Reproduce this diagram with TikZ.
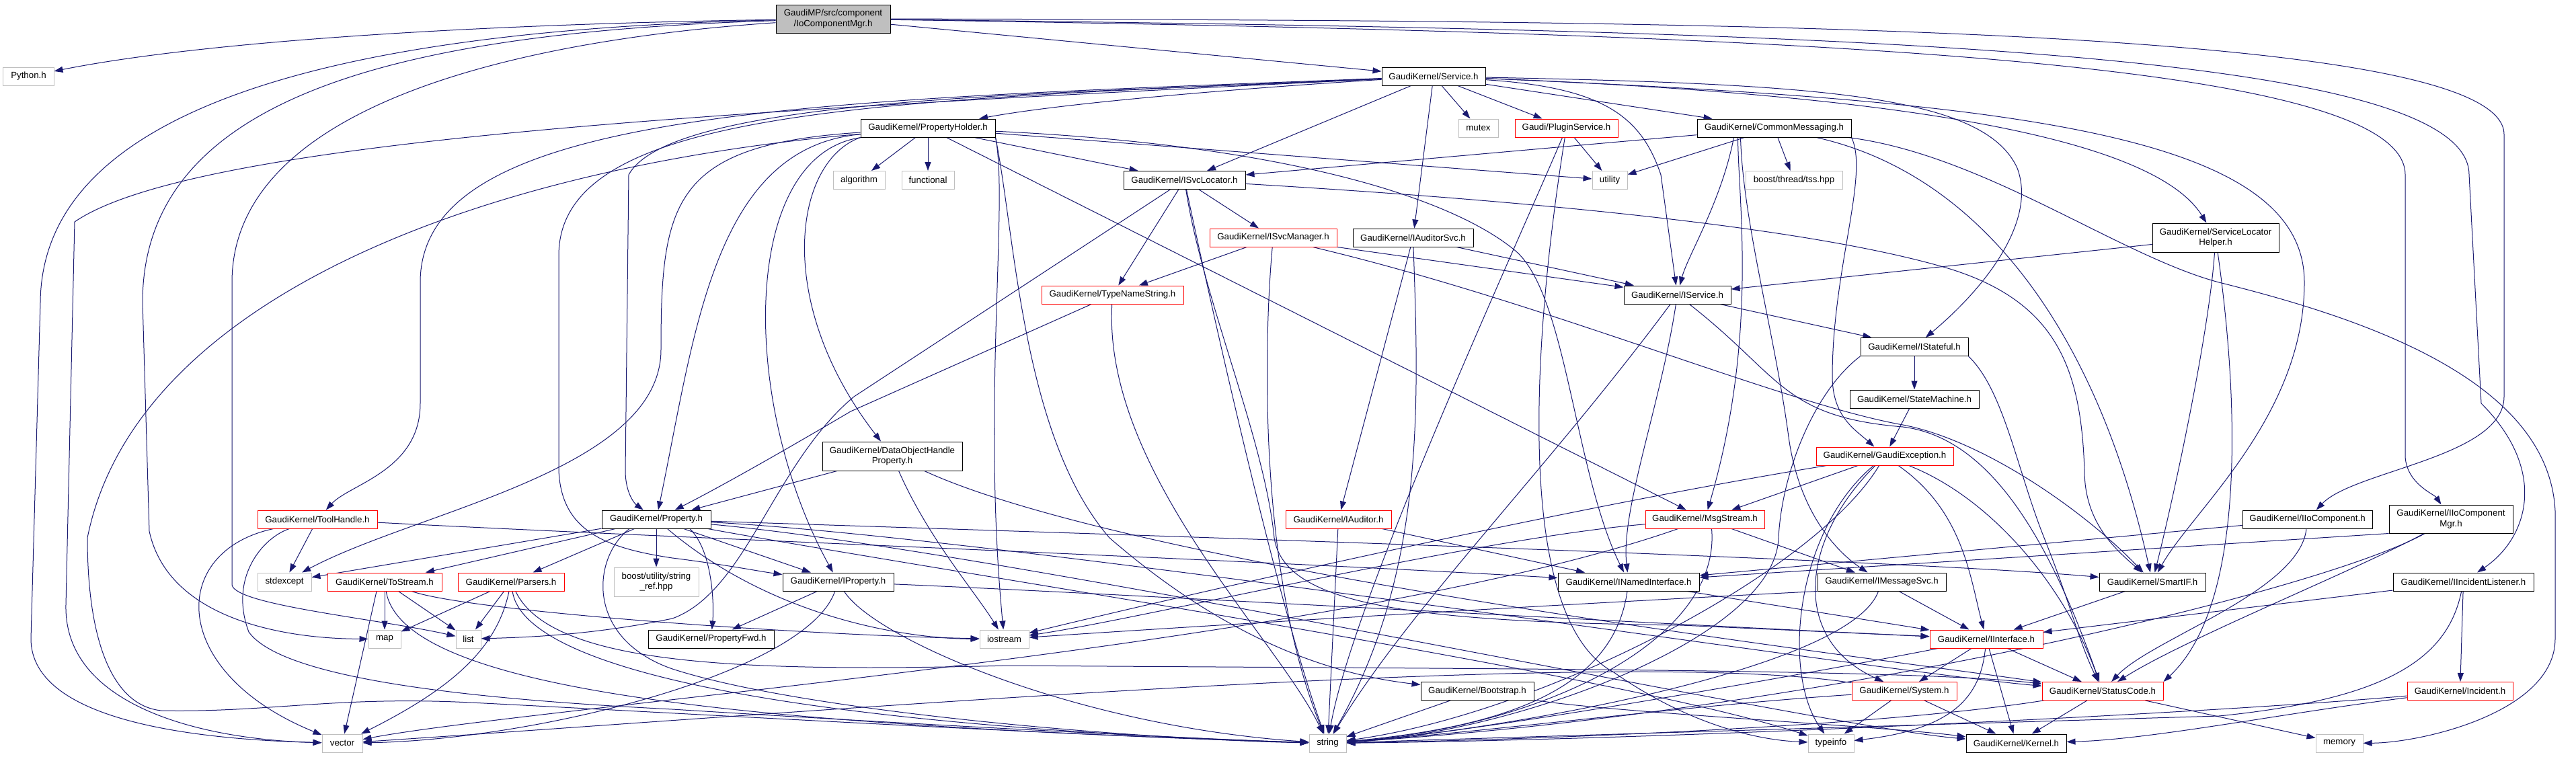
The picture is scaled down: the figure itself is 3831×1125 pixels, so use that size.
\documentclass[tikz,border=0pt]{standalone}
\usepackage{fontspec}
\setmainfont{Liberation Sans}
\usetikzlibrary{arrows.meta}
\pgfdeclarelayer{bottom}
\pgfdeclarelayer{bg}
\pgfsetlayers{bottom,bg,main}
\definecolor{edgeblue}{HTML}{191970}
\definecolor{greyseventyfive}{HTML}{BFBFBF}
\newcommand{\nfont}{\fontsize{13.3bp}{15.5bp}\selectfont}
\begin{document}
\begin{tikzpicture}[x=1bp,y=-1bp,
  nodebase/.style={rectangle, inner sep=0pt, line width=1bp, align=center, font=\nfont, fill=white},
  nbox/.style={nodebase, draw=black},
  rbox/.style={nodebase, draw=red},
  gbox/.style={nodebase, draw=greyseventyfive},
  tbox/.style={nodebase, draw=black, fill=greyseventyfive},
  edg/.style={draw=edgeblue, line width=1bp, -{Triangle[length=13bp,width=9bp]}},
]
\useasboundingbox (0,0) rectangle (3831,1125);
\begin{pgfonlayer}{bottom}
\fill[white] (0,0) rectangle (3831,1125);
\end{pgfonlayer}

\node[tbox,minimum width=170bp,minimum height=42bp] (top) at (1239,28) {GaudiMP/src/component\\/IoComponentMgr.h};
\node[gbox,minimum width=75bp,minimum height=27bp] (py) at (42.5,113.5) {Python.h};
\node[nbox,minimum width=154bp,minimum height=27bp] (svc) at (2132,113.5) {GaudiKernel/Service.h};
\node[nbox,minimum width=200bp,minimum height=27bp] (ph) at (1380,190.5) {GaudiKernel/PropertyHolder.h};
\node[gbox,minimum width=59bp,minimum height=27bp] (mutex) at (2198.5,190.5) {mutex};
\node[rbox,minimum width=153bp,minimum height=27bp] (plug) at (2329.5,190.5) {Gaudi/PluginService.h};
\node[nbox,minimum width=229bp,minimum height=27bp] (cm) at (2638.5,190.5) {GaudiKernel/CommonMessaging.h};
\node[gbox,minimum width=77bp,minimum height=27bp] (alg) at (1277.5,268) {algorithm};
\node[gbox,minimum width=78bp,minimum height=27bp] (func) at (1380,268) {functional};
\node[nbox,minimum width=181bp,minimum height=27bp] (isl) at (1761.5,268) {GaudiKernel/ISvcLocator.h};
\node[gbox,minimum width=52bp,minimum height=27bp] (util) at (2394,268) {utility};
\node[gbox,minimum width=144bp,minimum height=27bp] (tss) at (2668,268) {boost/thread/tss.hpp};
\node[nbox,minimum width=188bp,minimum height=43bp] (slh) at (3295,353.5) {GaudiKernel/ServiceLocator\\Helper.h};
\node[rbox,minimum width=189bp,minimum height=27bp] (ism) at (1893.5,353.5) {GaudiKernel/ISvcManager.h};
\node[nbox,minimum width=179bp,minimum height=27bp] (ias) at (2101.5,353.5) {GaudiKernel/IAuditorSvc.h};
\node[rbox,minimum width=211bp,minimum height=27bp] (tns) at (1654.5,438.5) {GaudiKernel/TypeNameString.h};
\node[nbox,minimum width=159bp,minimum height=27bp] (isv) at (2494.5,438.5) {GaudiKernel/IService.h};
\node[nbox,minimum width=160bp,minimum height=27bp] (ist) at (2847,516) {GaudiKernel/IStateful.h};
\node[nbox,minimum width=192bp,minimum height=27bp] (sm) at (2847,593.5) {GaudiKernel/StateMachine.h};
\node[nbox,minimum width=208bp,minimum height=43bp] (dohp) at (1327,678.5) {GaudiKernel/DataObjectHandle\\Property.h};
\node[rbox,minimum width=204bp,minimum height=27bp] (ge) at (2803,678.5) {GaudiKernel/GaudiException.h};
\node[rbox,minimum width=178bp,minimum height=27bp] (th) at (472,772.5) {GaudiKernel/ToolHandle.h};
\node[nbox,minimum width=162bp,minimum height=27bp] (prop) at (976,772.5) {GaudiKernel/Property.h};
\node[rbox,minimum width=157bp,minimum height=27bp] (iaud) at (1990.5,772.5) {GaudiKernel/IAuditor.h};
\node[rbox,minimum width=177bp,minimum height=27bp] (ms) at (2535.5,772.5) {GaudiKernel/MsgStream.h};
\node[nbox,minimum width=193bp,minimum height=27bp] (iioc) at (3431.5,772.5) {GaudiKernel/IIoComponent.h};
\node[nbox,minimum width=184bp,minimum height=42bp] (iiocm) at (3645,772) {GaudiKernel/IIoComponent\\Mgr.h};
\node[gbox,minimum width=80bp,minimum height=27bp] (stdex) at (423,865.5) {stdexcept};
\node[rbox,minimum width=170bp,minimum height=27bp] (tostr) at (572,865.5) {GaudiKernel/ToStream.h};
\node[rbox,minimum width=158bp,minimum height=27bp] (pars) at (760,865.5) {GaudiKernel/Parsers.h};
\node[gbox,minimum width=126bp,minimum height=43bp] (bsr) at (976,865.5) {boost/utility/string\\\_ref.hpp};
\node[nbox,minimum width=165bp,minimum height=27bp] (iprop) at (1246.5,865.5) {GaudiKernel/IProperty.h};
\node[nbox,minimum width=210bp,minimum height=27bp] (ini) at (2422,865.5) {GaudiKernel/INamedInterface.h};
\node[nbox,minimum width=191bp,minimum height=27bp] (ims) at (2798.5,865.5) {GaudiKernel/IMessageSvc.h};
\node[nbox,minimum width=158bp,minimum height=27bp] (sif) at (3201,865.5) {GaudiKernel/SmartIF.h};
\node[nbox,minimum width=209bp,minimum height=27bp] (iil) at (3663.5,865.5) {GaudiKernel/IIncidentListener.h};
\node[gbox,minimum width=48bp,minimum height=27bp] (map) at (572,950.5) {map};
\node[gbox,minimum width=37bp,minimum height=27bp] (list) at (696.5,950.5) {list};
\node[nbox,minimum width=187bp,minimum height=27bp] (pfwd) at (1057.5,950.5) {GaudiKernel/PropertyFwd.h};
\node[gbox,minimum width=73bp,minimum height=27bp] (ios) at (1493.5,950.5) {iostream};
\node[rbox,minimum width=168bp,minimum height=27bp] (iif) at (2954,950.5) {GaudiKernel/IInterface.h};
\node[nbox,minimum width=168bp,minimum height=27bp] (boot) at (2197,1028) {GaudiKernel/Bootstrap.h};
\node[rbox,minimum width=156bp,minimum height=27bp] (sys) at (2832,1028) {GaudiKernel/System.h};
\node[rbox,minimum width=180bp,minimum height=27bp] (sc) at (3127,1028) {GaudiKernel/StatusCode.h};
\node[rbox,minimum width=157bp,minimum height=27bp] (inc) at (3658.5,1028) {GaudiKernel/Incident.h};
\node[gbox,minimum width=60bp,minimum height=27bp] (vec) at (509,1105.5) {vector};
\node[gbox,minimum width=55bp,minimum height=27bp] (str) at (1974.5,1105.5) {string};
\node[gbox,minimum width=68bp,minimum height=27bp] (ti) at (2723,1105.5) {typeinfo};
\node[nbox,minimum width=149bp,minimum height=27bp] (kern) at (2998.5,1105.5) {GaudiKernel/Kernel.h};
\node[gbox,minimum width=70bp,minimum height=27bp] (mem) at (3479,1105.5) {memory};

\begin{pgfonlayer}{bg}
% top
\draw[edg] (top) .. controls (700,36) and (300,62) .. (py);
\draw[edg] (top) -- (svc);
\draw[edg] (top) .. controls (500,44) and (62,160) .. (60,450) -- (46,950) .. controls (46,1075) and (300,1100) .. (vec);
\draw[edg] (top) .. controls (600,48) and (212,140) .. (212,450) -- (222,790) .. controls (250,920) and (420,950) .. (map);
\draw[edg] (top) .. controls (760,60) and (345,160) .. (345,420) -- (345,870) .. controls (350,900) and (560,920) .. (list);
\draw[edg] (top) .. controls (2600,30) and (3724,40) .. (3724,200) -- (3724,590) .. controls (3724,680) and (3500,700) .. (iioc);
\draw[edg] (top) .. controls (2700,50) and (3577,90) .. (3577,260) -- (3577,680) .. controls (3580,720) and (3620,735) .. (iiocm);
\draw[edg] (top) .. controls (2700,45) and (3672,70) .. (3672,260) -- (3690,600) .. controls (3790,700) and (3760,800) .. (iil);
% Service
\draw[edg] (svc) .. controls (1900,128) and (1600,150) .. (ph);
\draw[edg] (svc) -- (mutex);
\draw[edg] (svc) -- (plug);
\draw[edg] (svc) -- (cm);
\draw[edg] (svc) -- (isl);
\draw[edg] (svc) -- (ias);
\draw[edg] (svc) .. controls (2380,130) and (2440,170) .. (2470,260) -- (isv);
\draw[edg] (svc) .. controls (2700,125) and (2950,140) .. (3000,250) .. controls (3030,330) and (2950,430) .. (ist);
\draw[edg] (svc) .. controls (2800,140) and (3200,200) .. (slh);
\draw[edg] (svc) .. controls (3000,150) and (3427,200) .. (3427,420) .. controls (3427,620) and (3260,760) .. (sif);
\draw[edg] (svc) .. controls (1200,150) and (625,160) .. (625,420) -- (625,600) .. controls (625,700) and (520,720) .. (th);
\draw[edg] (svc) .. controls (1200,160) and (300,200) .. (111,330) -- (98,900) .. controls (95,1050) and (300,1100) .. (vec);
\draw[edg] (svc) .. controls (1300,150) and (831,160) .. (831,380) -- (831,700) .. controls (835,790) and (900,815) .. (1000,830) .. controls (1080,840) and (1130,850) .. (iprop);
\draw[edg] (svc) .. controls (1600,140) and (1000,140) .. (935,260) -- (930,700) .. controls (930,735) and (945,750) .. (prop);
% PropertyHolder
\draw[edg] (ph) -- (alg);
\draw[edg] (ph) -- (func);
\draw[edg] (ph) -- (isl);
\draw[edg] (ph) -- (util);
\draw[edg] (ph) .. controls (1060,220) and (1033,500) .. (prop);
\draw[edg] (ph) .. controls (1000,215) and (983,300) .. (983,520) .. controls (983,700) and (620,760) .. (stdex);
\draw[edg] (ph) .. controls (1100,230) and (1100,600) .. (iprop);
\draw[edg] (ph.south west) .. controls (1180,240) and (1150,450) .. (dohp);
\draw[edg] (ph.south east) .. controls (1500,300) and (1460,600) .. (ios);
\draw[edg] (ph) -- (ms);
\draw[edg] (ph) .. controls (1900,215) and (2150,290) .. (2250,370) .. controls (2330,430) and (2340,700) .. (ini);
\draw[edg] (ph.south east) .. controls (1510,350) and (1520,650) .. (1650,800) .. controls (1800,930) and (1950,1000) .. (boot);
\draw[edg] (ph) .. controls (700,250) and (200,450) .. (130,800) .. controls (130,960) and (170,1050) .. (240,1057) .. controls (400,1060) and (500,1035) .. (700,1045) .. controls (1000,1060) and (1600,1095) .. (str);
% PluginService
\draw[edg] (plug) -- (util);
\draw[edg] (plug) .. controls (2240,400) and (2010,900) .. (str);
\draw[edg] (plug) .. controls (2280,500) and (2250,920) .. (2400,1000) .. controls (2500,1070) and (2600,1100) .. (ti);
% CommonMessaging
\draw[edg] (cm) -- (isl);
\draw[edg] (cm) -- (util);
\draw[edg] (cm) -- (tss);
\draw[edg] ([xshift=-60bp]cm.south) .. controls (2560,300) and (2510,380) .. (isv);
\draw[edg] ([xshift=-54bp]cm.south) .. controls (2585,300) and (2615,500) .. (ms);
\draw[edg] ([xshift=-50bp]cm.south) .. controls (2592,330) and (2640,500) .. (2660,650) .. controls (2675,760) and (2730,820) .. (ims);
\draw[edg] (cm) .. controls (2950,260) and (3120,500) .. (sif);
\draw[edg] (cm.south east) .. controls (2780,260) and (2725,400) .. (2725,560) .. controls (2725,620) and (2760,640) .. (ge);
\draw[edg] (cm) .. controls (2950,230) and (3150,380) .. (3300,420) .. controls (3500,470) and (3790,560) .. (3800,760) -- (3800,950) .. controls (3800,1060) and (3600,1105) .. (mem);
% ISvcLocator
\draw[edg] (isl) -- (ism);
\draw[edg] (isl) -- (tns);
\draw[edg] (isl) -- (1270,590) .. controls (1150,690) and (1110,880) .. (1000,920) .. controls (880,945) and (780,948) .. (list);
\draw[edg] (isl) .. controls (1800,450) and (1900,900) .. (str);
\draw[edg] (isl) .. controls (2300,300) and (2700,340) .. (2900,400) .. controls (3060,450) and (3095,550) .. (3100,700) .. controls (3100,780) and (3150,820) .. (sif);
\draw[edg] (isl) .. controls (1790,450) and (1880,650) .. (1895,800) .. controls (1910,900) and (2100,925) .. (2500,930) -- (iif);
% ISvcManager
\draw[edg] (ism) -- (tns);
\draw[edg] (ism.south east) -- (isv);
\draw[edg] (ism) .. controls (1880,500) and (1870,850) .. (str);
\draw[edg] (ism) .. controls (2300,450) and (2650,600) .. (2830,632) .. controls (2950,655) and (3100,760) .. (sif);
% IAuditorSvc
\draw[edg] (ias) -- (isv);
\draw[edg] (ias) -- (iaud);
\draw[edg] (ias) .. controls (2110,600) and (2120,850) .. (str);
% ServiceLocatorHelper
\draw[edg] (slh) -- (isv);
\draw[edg] (slh) .. controls (3285,500) and (3230,750) .. (sif);
\draw[edg] (slh) .. controls (3330,600) and (3340,900) .. (sc.north east);
% TypeNameString
\draw[edg] (tns) -- (1265,612) .. controls (1150,680) and (1060,730) .. (prop);
\draw[edg] (tns) .. controls (1640,700) and (1900,950) .. (str);
% IService
\draw[edg] (isv) -- (ist);
\draw[edg] (isv) .. controls (2470,600) and (2410,760) .. (ini);
\draw[edg] (isv) .. controls (2300,700) and (2100,900) .. (str);
\draw[edg] (isv) .. controls (2650,560) and (2650,620) .. (2830,635) .. controls (2950,650) and (3040,780) .. (sc);
% IStateful
\draw[edg] (ist) -- (sm);
\draw[edg] (ist.south west) .. controls (2700,580) and (2650,700) .. (2645,800) .. controls (2640,950) and (2250,1090) .. (str);
\draw[edg] (ist.south east) .. controls (2980,580) and (3000,700) .. (3040,800) .. controls (3080,900) and (3090,950) .. (sc);
\draw[edg] (sm) -- (ge);
% DataObjectHandleProperty
\draw[edg] (dohp) -- (prop);
\draw[edg] (dohp) .. controls (1380,800) and (1450,880) .. (ios);
\draw[edg] (dohp) .. controls (1700,850) and (2800,980) .. (sc);
% GaudiException
\draw[edg] (ge) -- (ms);
\draw[edg] (ge) .. controls (2300,760) and (1700,900) .. (ios);
\draw[edg] (ge) .. controls (2920,760) and (2930,860) .. (iif);
\draw[edg] (ge) .. controls (2960,740) and (3070,870) .. (sc);
\draw[edg] (ge) .. controls (2700,850) and (2300,1060) .. (str);
\draw[edg] (ge) .. controls (2670,790) and (2650,1000) .. (ti);
\draw[edg] (ge) .. controls (2680,800) and (2660,950) .. (sys);
% ToolHandle
\draw[edg] (th) -- (stdex);
\draw[edg] (th) .. controls (250,820) and (250,1000) .. (vec);
\draw[edg] (th) .. controls (390,800) and (340,860) .. (370,940) .. controls (420,1010) and (700,1040) .. (1000,1055) .. controls (1400,1080) and (1800,1100) .. (str);
\draw[edg] (th) .. controls (1000,800) and (1800,830) .. (ini);
% Property
\draw[edg] (prop) -- (stdex);
\draw[edg] (prop) -- (tostr);
\draw[edg] (prop) -- (pars);
\draw[edg] (prop) -- (bsr);
\draw[edg] ([xshift=50bp]prop.south) .. controls (1060,820) and (1062,900) .. (pfwd);
\draw[edg] (prop) -- (iprop);
\draw[edg] ([xshift=-40bp]prop.south) .. controls (880,830) and (870,950) .. (1000,995) .. controls (1200,1060) and (1700,1100) .. (str);
\draw[edg] (prop) .. controls (1400,850) and (2400,1000) .. (ti);
\draw[edg] (prop) .. controls (1150,920) and (1350,950) .. (ios);
\draw[edg] (prop) .. controls (1500,790) and (2800,830) .. (sif);
\draw[edg] (prop) .. controls (1500,800) and (2800,1000) .. (sc);
\draw[edg] (prop) .. controls (1500,820) and (2700,1080) .. (kern);
% Parsers
\draw[edg] (pars) -- (map);
\draw[edg] (pars) -- (list);
\draw[edg] (pars) .. controls (740,960) and (680,1020) .. (vec);
\draw[edg] (pars) .. controls (780,1000) and (1200,1080) .. (str);
\draw[edg] (pars) .. controls (820,990) and (1100,1000) .. (1500,990) .. controls (2200,995) and (2850,995) .. (sc);
% ToStream
\draw[edg] (tostr) -- (map);
\draw[edg] (tostr) -- (list);
\draw[edg] ([xshift=-12bp]tostr.south) -- (vec);
\draw[edg] (tostr) .. controls (600,1040) and (1200,1080) .. (str);
\draw[edg] (tostr) .. controls (700,910) and (1200,945) .. (ios);
% IProperty
\draw[edg] (iprop) -- (pfwd);
\draw[edg] (iprop) .. controls (1200,1000) and (800,1100) .. (vec);
\draw[edg] (iprop) .. controls (1300,950) and (1600,1080) .. (str);
\draw[edg] (iprop) .. controls (1600,880) and (2500,930) .. (iif);
% IAuditor
\draw[edg] (iaud) -- (ini);
\draw[edg] (iaud) -- (str);
% MsgStream
\draw[edg] (ms) -- (ims);
\draw[edg] (ms) .. controls (2200,800) and (1700,920) .. (ios);
\draw[edg] (ms) .. controls (2000,960) and (800,1050) .. (vec);
\draw[edg] ([xshift=10bp]ms.south) .. controls (2560,950) and (2300,1080) .. (str);
% IIoComponent, IIoComponentMgr, IIncidentListener
\draw[edg] (iioc) -- (ini);
\draw[edg] (iioc) .. controls (3420,880) and (3200,950) .. (sc);
\draw[edg] (iiocm.south west) -- (ini);
\draw[edg] (iiocm) .. controls (3500,850) and (3250,950) .. (sc);
\draw[edg] (iiocm) .. controls (3450,880) and (2700,1060) .. (str);
\draw[edg] (iil) -- (iif);
\draw[edg] (iil) -- (inc);
\draw[edg] (iil) .. controls (3640,980) and (3550,1040) .. (3300,1065) .. controls (2800,1080) and (2300,1095) .. (str);
% INamedInterface, IMessageSvc, SmartIF
\draw[edg] (ini) -- (iif);
\draw[edg] (ini) .. controls (2400,1020) and (2250,1080) .. (str);
\draw[edg] (ims) -- (iif);
\draw[edg] (ims) .. controls (2750,1000) and (2200,1090) .. (str);
\draw[edg] (ims.south west) .. controls (2300,900) and (1800,930) .. (ios);
\draw[edg] (sif) -- (iif);
% IInterface
\draw[edg] (iif) -- (sys);
\draw[edg] (iif) -- (sc);
\draw[edg] (iif) -- (kern);
\draw[edg] (iif) .. controls (2945,1040) and (2900,1085) .. (ti);
\draw[edg] (iif) .. controls (2700,1000) and (2200,1090) .. (str);
% System
\draw[edg] (sys) -- (ti);
\draw[edg] (sys) -- (kern);
\draw[edg] (sys) .. controls (2500,1050) and (2200,1090) .. (str);
\draw[edg] (sys) .. controls (2400,960) and (1200,1060) .. (vec);
% StatusCode
\draw[edg] (sc) -- (kern);
\draw[edg] (sc) -- (mem);
\draw[edg] (sc) .. controls (2800,1080) and (2300,1100) .. (str);
% Incident, Bootstrap
\draw[edg] (inc) .. controls (3300,1060) and (2500,1100) .. (str);
\draw[edg] (inc) .. controls (3400,1060) and (3200,1100) .. (kern);
\draw[edg] (boot) -- (str);
\draw[edg] (boot) .. controls (2400,1060) and (2800,1080) .. (kern);
\end{pgfonlayer}
\end{tikzpicture}
\end{document}
